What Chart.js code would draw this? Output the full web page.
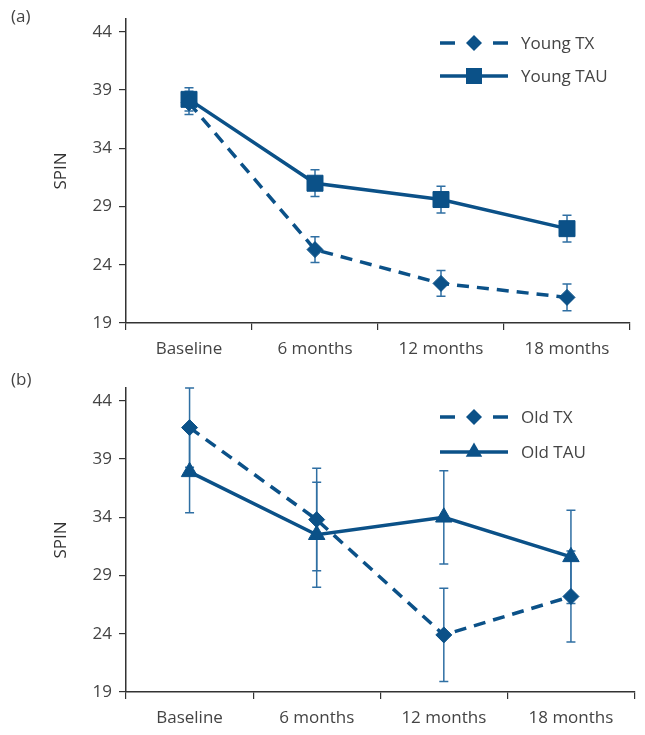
<!DOCTYPE html>
<html>
<head>
<meta charset="utf-8">
<script src="https://cdn.jsdelivr.net/npm/chart.js@4.4.0/dist/chart.umd.min.js"></script>
<style>
  body { margin: 0; background: #fff; font-family: "Open Sans", sans-serif; }
  .panel { position: relative; width: 645px; }
  .tag { position: absolute; left: 11px; font-size: 17px; color: #444; }
</style>
</head>
<body>
<div class="panel" style="height:365px">
  <div class="tag" style="top:4px">(a)</div>
  <canvas id="chartA" width="645" height="365"></canvas>
</div>
<div class="panel" style="height:370px">
  <div class="tag" style="top:2px">(b)</div>
  <canvas id="chartB" width="645" height="370"></canvas>
</div>
<script>
const categories = ['Baseline', '6 months', '12 months', '18 months'];
const yTicks = [19, 24, 29, 34, 39, 44];

const youngTX = [37.9, 25.3, 22.4, 21.2];
const youngTXErr = [1.0, 1.1, 1.1, 1.15];
const youngTAU = [38.2, 31.0, 29.6, 27.1];
const youngTAUErr = [1.0, 1.15, 1.15, 1.15];

const oldTX = [41.7, 33.8, 23.9, 27.2];
const oldTXErr = [3.4, 4.4, 4.0, 3.9];
const oldTAU = [37.9, 32.5, 34.0, 30.6];
const oldTAUErr = [3.5, 4.5, 4.0, 4.0];

const BLUE = '#0b5188';
const ERR = '#2f6fa3';
const FONT = '"Open Sans", sans-serif';

function drawMarker(ctx, style, x, y, r) {
  ctx.beginPath();
  if (style === 'rect') {
    const s = Math.SQRT1_2 * r;
    ctx.rect(x - s, y - s, 2 * s, 2 * s);
  } else if (style === 'rectRot') {
    ctx.moveTo(x, y - r); ctx.lineTo(x + r, y); ctx.lineTo(x, y + r); ctx.lineTo(x - r, y);
    ctx.closePath();
  } else {
    const w = r * Math.sqrt(3) / 2;
    ctx.moveTo(x, y - r); ctx.lineTo(x + w, y + r / 2); ctx.lineTo(x - w, y + r / 2);
    ctx.closePath();
  }
  ctx.fill();
}

// vertical error bars with caps, drawn under the markers
const errorBars = {
  id: 'errorBars',
  beforeDatasetsDraw(chart) {
    const ctx = chart.ctx, ys = chart.scales.y;
    chart.data.datasets.forEach((ds, i) => {
      const meta = chart.getDatasetMeta(i);
      ctx.save();
      ctx.strokeStyle = ERR;
      ctx.lineWidth = 1.5;
      meta.data.forEach((pt, j) => {
        const top = ys.getPixelForValue(ds.data[j] + ds.err[j]);
        const bot = ys.getPixelForValue(ds.data[j] - ds.err[j]);
        ctx.beginPath();
        ctx.moveTo(pt.x, top); ctx.lineTo(pt.x, bot);
        ctx.moveTo(pt.x - 4.5, top); ctx.lineTo(pt.x + 4.5, top);
        ctx.moveTo(pt.x - 4.5, bot); ctx.lineTo(pt.x + 4.5, bot);
        ctx.stroke();
      });
      ctx.restore();
    });
  }
};

// legend with line sample + marker
const lineLegend = {
  id: 'lineLegend',
  afterDraw(chart, args, opts) {
    const ctx = chart.ctx;
    chart.data.datasets.forEach((ds, i) => {
      const y = opts.rows[i];
      const x0 = opts.x0, x1 = opts.x1, xm = (x0 + x1) / 2;
      ctx.save();
      ctx.strokeStyle = ds.borderColor;
      ctx.fillStyle = ds.pointBackgroundColor;
      ctx.lineWidth = ds.borderWidth;
      ctx.beginPath();
      if (ds.borderDash && ds.borderDash.length) {
        ctx.moveTo(x0, y); ctx.lineTo(x0 + 15, y);
        ctx.moveTo(x1 - 15, y); ctx.lineTo(x1, y);
      } else {
        ctx.moveTo(x0, y); ctx.lineTo(x1, y);
      }
      ctx.stroke();
      drawMarker(ctx, ds.pointStyle, xm, y, ds.pointRadius);
      ctx.fillStyle = '#444';
      ctx.font = '17px ' + FONT;
      ctx.textBaseline = 'middle';
      ctx.fillText(ds.label, opts.tx, y + 1);
      ctx.restore();
    });
  }
};

function series(label, data, err, style, radius, dashed) {
  return {
    label, data, err,
    borderColor: BLUE,
    borderWidth: 3.5,
    borderDash: dashed ? [12, 8] : [],
    pointStyle: style,
    pointRadius: radius,
    pointHoverRadius: radius,
    pointBackgroundColor: BLUE,
    pointBorderColor: BLUE,
    pointBorderWidth: 1,
    tension: 0,
    fill: false
  };
}

function makeOptions(pad, xHeight, legendRows) {
  return {
    responsive: false,
    animation: false,
    layout: { padding: pad },
    plugins: {
      legend: { display: false },
      tooltip: { enabled: false },
      lineLegend: { rows: legendRows, x0: 440, x1: 508, tx: 521 }
    },
    scales: {
      x: {
        type: 'category',
        offset: true,
        afterFit: s => { s.height = xHeight; },
        border: { color: '#333', width: 1.5 },
        grid: { offset: true, drawOnChartArea: false, tickLength: 7, color: '#333', lineWidth: 1.2 },
        ticks: { color: '#444', padding: 9, font: { size: 17, family: FONT } }
      },
      y: {
        min: 19,
        max: 45.1,
        afterBuildTicks: s => { s.ticks = yTicks.map(v => ({ value: v })); },
        afterFit: s => { s.width = 126; },
        border: { color: '#333', width: 1.5 },
        grid: { drawOnChartArea: false, tickLength: 7, color: '#333', lineWidth: 1.2 },
        ticks: { color: '#444', padding: 7, font: { size: 17, family: FONT } },
        title: { display: true, text: 'SPIN', color: '#333', font: { size: 17, family: FONT }, padding: { top: 51, bottom: 0 } }
      }
    }
  };
}

new Chart(document.getElementById('chartA'), {
  type: 'line',
  data: {
    labels: categories,
    datasets: [
      series('Young TX', youngTX, youngTXErr, 'rectRot', 8, true),
      series('Young TAU', youngTAU, youngTAUErr, 'rect', 11.3, false)
    ]
  },
  options: makeOptions({ top: 19, right: 15, left: 0, bottom: 0 }, 42, [43, 76]),
  plugins: [errorBars, lineLegend]
});

new Chart(document.getElementById('chartB'), {
  type: 'line',
  data: {
    labels: categories,
    datasets: [
      series('Old TX', oldTX, oldTXErr, 'rectRot', 8, true),
      series('Old TAU', oldTAU, oldTAUErr, 'triangle', 9.5, false)
    ]
  },
  options: makeOptions({ top: 23, right: 5, left: 0, bottom: 0 }, 43, [52, 87]),
  plugins: [errorBars, lineLegend]
});
</script>
</body>
</html>
